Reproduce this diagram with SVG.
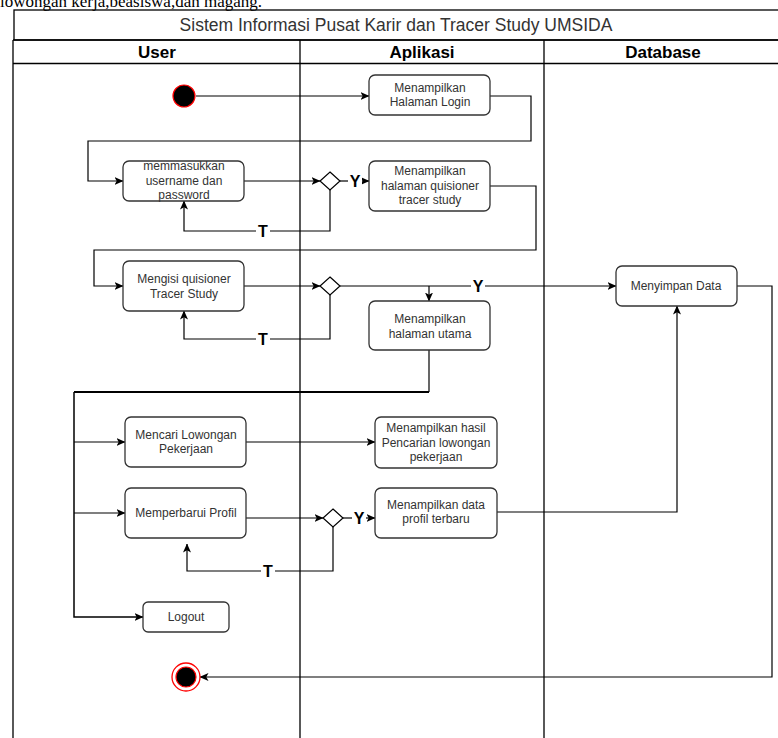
<svg xmlns="http://www.w3.org/2000/svg" width="778" height="738" viewBox="0 0 778 738">
<style>
.node rect{fill:#fff;stroke:#333;stroke-width:1.3}
.node text{font-family:"Liberation Sans",Arial,sans-serif;font-size:12px;fill:#333;text-anchor:middle;dominant-baseline:central}
.lane{fill:none;stroke:#000;stroke-width:1.3}
.hdr{font-family:"Liberation Sans",Arial,sans-serif;font-size:17px;font-weight:bold;fill:#000;text-anchor:middle;dominant-baseline:central}
.title{font-family:"Liberation Sans",Arial,sans-serif;font-size:17.5px;fill:#333;text-anchor:middle;dominant-baseline:central}
.conn path{fill:none;stroke:#000;stroke-width:1.2}
.conn .arr{marker-end:url(#ah)}
.lbl{font-family:"Liberation Sans",Arial,sans-serif;font-size:16px;font-weight:bold;fill:#000;text-anchor:middle;dominant-baseline:central}
.lblbg{fill:#fff}
.dia{fill:#fff;stroke:#000;stroke-width:1.2}
</style>
<defs>
<marker id="ah" markerWidth="9" markerHeight="8" refX="8.5" refY="4" orient="auto" markerUnits="userSpaceOnUse">
<path d="M0,0 L9,4 L0,8 L2.2,4 Z" fill="#000"/>
</marker>
</defs>
<rect width="778" height="738" fill="#fff"/>
<text x="0" y="7" font-family="Liberation Serif,Times New Roman,serif" font-size="17" fill="#000">lowongan kerja,beasiswa,dan magang.</text>

<g id="pool">
<rect class="lane" x="14" y="10" width="790" height="30"/>
<text class="title" x="396" y="25">Sistem Informasi Pusat Karir dan Tracer Study UMSIDA</text>
<path class="lane" d="M13,40 H790 M13,63.5 H790 M13,40 V740 M300,40 V740 M544,40 V740"/>
<text class="hdr" x="157" y="52">User</text>
<text class="hdr" x="422" y="52">Aplikasi</text>
<text class="hdr" x="663" y="52">Database</text>
</g>

<g id="connectors" class="conn">
<path class="arr" d="M196,96 H369"/>
<path class="arr" d="M490,96 H531 V141 H88 V181 H123"/>
<path class="arr" d="M244,181 H320"/>
<path class="arr" d="M340,181 H369"/>
<path class="arr" d="M330,190 V231 H184 V201"/>
<path class="arr" d="M490,186 H536 V250 H94 V286 H123"/>
<path class="arr" d="M244,286 H320"/>
<path class="arr" d="M340,286 H616"/>
<path class="arr" d="M429,286 V301"/>
<path class="arr" d="M330,295 V339 H184 V311"/>
<path d="M429,350 V392"/>
<path d="M429,392 H74" style="stroke-width:2.2"/>
<path class="arr" d="M74,392 V617 H143" style="stroke-width:1.5"/>
<path class="arr" d="M74,442 H125"/>
<path class="arr" d="M74,513 H125"/>
<path class="arr" d="M246,442 H375"/>
<path class="arr" d="M246,518 H323"/>
<path class="arr" d="M343,518 H375"/>
<path class="arr" d="M333,527 V571 H187 V544"/>
<path class="arr" d="M497,512 H677 V306"/>
<path class="arr" d="M737,286 H772 V677 H200"/>
<rect class="lblbg" x="348" y="172" width="14" height="18"/>
<text class="lbl" x="355" y="181">Y</text>
<rect class="lblbg" x="256" y="222" width="14" height="18"/>
<text class="lbl" x="263" y="231">T</text>
<rect class="lblbg" x="471" y="277" width="14" height="18"/>
<text class="lbl" x="478" y="286">Y</text>
<rect class="lblbg" x="256" y="330" width="14" height="18"/>
<text class="lbl" x="263" y="339">T</text>
<rect class="lblbg" x="352" y="509" width="14" height="18"/>
<text class="lbl" x="359" y="518">Y</text>
<rect class="lblbg" x="261" y="562" width="14" height="18"/>
<text class="lbl" x="268" y="571">T</text>
</g>

<g id="start"><circle cx="184" cy="96" r="11" fill="#000" stroke="#f00" stroke-width="1.2"/></g>
<g id="end"><circle cx="186" cy="677" r="14" fill="#fff" stroke="#f00" stroke-width="1.3"/><circle cx="186" cy="677" r="10" fill="#000" stroke="#f00" stroke-width="1.2"/></g>

<g id="d1"><path class="dia" d="M330,172 L340,181 L330,190 L320,181 Z"/></g>
<g id="d2"><path class="dia" d="M330,277 L340,286 L330,295 L320,286 Z"/></g>
<g id="d3"><path class="dia" d="M333,509 L343,518 L333,527 L323,518 Z"/></g>

<g id="n-login" class="node"><rect x="369" y="75" width="121" height="40" rx="6"/><text x="430" y="88">Menampilkan</text><text x="430" y="102">Halaman Login</text></g>
<g id="n-input" class="node"><rect x="123" y="161" width="121" height="40" rx="6"/><text x="184" y="166">memmasukkan</text><text x="184" y="180.5">username dan</text><text x="184" y="195">password</text></g>
<g id="n-quis" class="node"><rect x="369" y="161" width="121" height="50" rx="6"/><text x="430" y="171">Menampilkan</text><text x="430" y="185.5">halaman quisioner</text><text x="430" y="200">tracer study</text></g>
<g id="n-isi" class="node"><rect x="123" y="261" width="121" height="50" rx="6"/><text x="184" y="279">Mengisi quisioner</text><text x="184" y="294">Tracer Study</text></g>
<g id="n-utama" class="node"><rect x="369" y="301" width="121" height="49" rx="6"/><text x="430" y="319">Menampilkan</text><text x="430" y="334">halaman utama</text></g>
<g id="n-simpan" class="node"><rect x="616" y="266" width="121" height="40" rx="6"/><text x="676" y="286">Menyimpan Data</text></g>
<g id="n-cari" class="node"><rect x="125" y="417" width="121" height="50" rx="6"/><text x="186" y="435">Mencari Lowongan</text><text x="186" y="449">Pekerjaan</text></g>
<g id="n-hasil" class="node"><rect x="375" y="417" width="122" height="51" rx="6"/><text x="436" y="428">Menampilkan hasil</text><text x="436" y="442.5">Pencarian lowongan</text><text x="436" y="457">pekerjaan</text></g>
<g id="n-profil" class="node"><rect x="125" y="488" width="121" height="50" rx="6"/><text x="186" y="513">Memperbarui Profil</text></g>
<g id="n-dataprofil" class="node"><rect x="375" y="488" width="122" height="50" rx="6"/><text x="436" y="505">Menampilkan data</text><text x="436" y="519">profil terbaru</text></g>
<g id="n-logout" class="node"><rect x="143" y="602" width="86" height="30" rx="5"/><text x="186" y="617">Logout</text></g>
</svg>
